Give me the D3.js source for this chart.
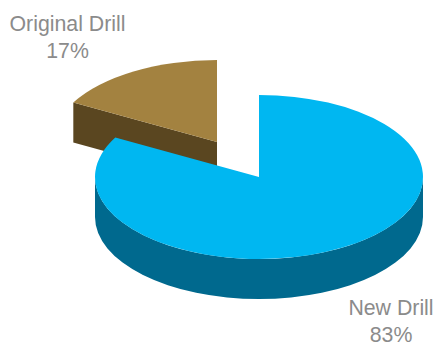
<!DOCTYPE html>
<html>
<head>
<meta charset="utf-8">
<script src="https://cdn.jsdelivr.net/npm/d3@7"></script>
<style>
  html, body { margin: 0; padding: 0; background: #fff; }
  svg { display: block; }
  text { font-family: "Liberation Sans", Arial, sans-serif; fill: #8b8b8b; text-anchor: middle; }
</style>
</head>
<body>
<svg id="chart" width="437" height="347"></svg>
<script>
const categories = ["New Drill", "Original Drill"];
const shares = [83, 17];

const topColors = ["#00B7F1", "#A38240"];
const sideColors = ["#00698E", "#5A4620"];

// Slice placement: each wedge is pulled away from the pie's centre on its own.
const centers = [[259, 177], [217, 142]];
const labelPositions = [[391, 315], [67.5, 31]];
const radius = 164;
const tilt = 0.5;
const depth = 40 / tilt;
const lineGap = 27;
const fontSize = 21.3;

const svg = d3.select("#chart");
const slices = d3.pie().sort(null).value(d => d)(shares);
const arc = d3.arc().innerRadius(0).outerRadius(radius);

// d3.arc measures from 12 o'clock, d3.path from 3 o'clock.
const toPathAngle = a => a - Math.PI / 2;

// Outer rim of a wedge between two screen-facing angles.
function rimPath(start, end) {
  const p = d3.path();
  p.arc(0, 0, radius, start, end);
  p.lineTo(radius * Math.cos(end), radius * Math.sin(end) + depth);
  p.arc(0, depth, radius, end, start, true);
  p.closePath();
  return p.toString();
}

// Flat cut running from the wedge's apex out to the rim at the given angle.
function cutPath(angle) {
  const a = toPathAngle(angle);
  const x = radius * Math.cos(a);
  const y = radius * Math.sin(a);
  const p = d3.path();
  p.moveTo(0, 0);
  p.lineTo(x, y);
  p.lineTo(x, y + depth);
  p.lineTo(0, depth);
  p.closePath();
  return p.toString();
}

// Back wedge is painted first so the large slice overlaps it.
[1, 0].forEach(i => {
  const s = slices[i];
  const g = svg.append("g")
    .attr("transform", `translate(${centers[i][0]},${centers[i][1]}) scale(1,${tilt})`);

  // The rim only shows on the near half of the ellipse (3 o'clock round to 9 o'clock).
  const rimStart = Math.max(toPathAngle(s.startAngle), 0);
  const rimEnd = Math.min(toPathAngle(s.endAngle), Math.PI);
  if (rimEnd > rimStart) {
    g.append("path").attr("d", rimPath(rimStart, rimEnd)).attr("fill", sideColors[i]);
  }
  // The cut on the leading edge of the back wedge faces the viewer.
  if (s.startAngle > Math.PI) {
    g.append("path").attr("d", cutPath(s.startAngle)).attr("fill", sideColors[i]);
  }
  g.append("path").attr("d", arc(s)).attr("fill", topColors[i]);
});

// Category name with its percentage underneath.
categories.forEach((name, i) => {
  const [x, y] = labelPositions[i];
  const label = svg.append("text").attr("font-size", fontSize);
  label.append("tspan").attr("x", x).attr("y", y).text(name);
  label.append("tspan").attr("x", x).attr("y", y + lineGap).text(shares[i] + "%");
});
</script>
</body>
</html>
